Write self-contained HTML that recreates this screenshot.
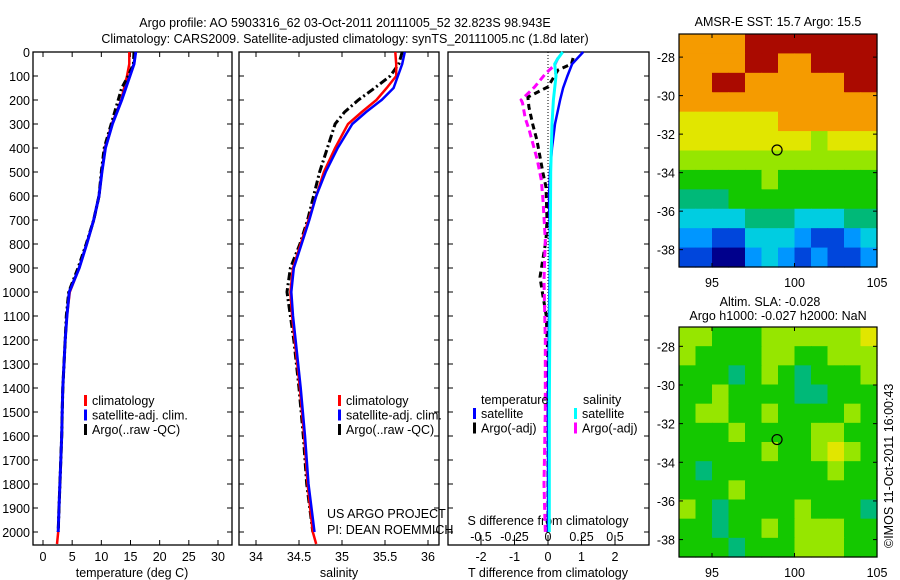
<!DOCTYPE html>
<html><head><meta charset="utf-8">
<style>
body{margin:0;background:#fff;}
svg{display:block;font-family:"Liberation Sans",sans-serif;font-size:12.5px;}
</style></head>
<body>
<svg id="c" width="900" height="580" viewBox="0 0 900 580" xmlns="http://www.w3.org/2000/svg">
<rect width="900" height="580" fill="#fff"/>
<text x="345" y="27" text-anchor="middle">Argo profile: AO 5903316_62 03-Oct-2011 20111005_52 32.823S 98.943E</text>
<text x="345" y="43" text-anchor="middle">Climatology: CARS2009. Satellite-adjusted climatology: synTS_20111005.nc (1.8d later)</text>
<g id="g"></g>
<text transform="translate(893,548) rotate(-90)">©IMOS 11-Oct-2011 16:00:43</text>
</svg>
<script>
// ---------- data ----------
const tDepth=[0,50,100,150,200,300,400,500,600,700,800,900,1000,1100,1200,1300,1400,1500,1600,1700,1800,1900,2000,2050];
const tClim=[14.8,14.8,14.4,13.9,13.4,11.8,10.6,10.1,9.6,8.7,7.5,6.2,4.6,4.1,3.8,3.6,3.4,3.3,3.2,3.05,2.9,2.75,2.6,2.4];
const tSat=[15.9,15.6,14.9,14.2,13.5,11.9,10.7,10.1,9.6,8.7,7.5,6.2,4.5,4.1,3.8,3.6,3.4,3.3,3.2,3.05,2.9,2.75,2.6,null];
const tArgo=[15.6,15.5,14.6,13.5,12.9,11.7,10.5,10.0,9.6,8.7,7.4,6.0,4.4,4.0,3.8,3.6,3.4,3.3,3.2,3.05,2.9,2.75,2.6,null];
const sDepth=[0,50,100,150,200,250,300,400,500,600,700,800,900,1000,1100,1200,1400,1600,1800,2000,2050];
const sClim=[35.62,35.63,35.63,35.52,35.40,35.23,35.07,34.92,34.79,34.70,34.61,34.52,34.43,34.40,34.42,34.45,34.51,34.56,34.60,34.66,34.70];
const sSat=[35.73,35.70,35.65,35.60,35.46,35.28,35.12,34.95,34.81,34.70,34.62,34.53,34.44,34.41,34.43,34.46,34.52,34.57,34.61,34.68,null];
const sArgo=[35.70,35.66,35.56,35.38,35.19,35.03,34.92,34.83,34.74,34.67,34.60,34.51,34.40,34.36,34.40,34.44,34.50,34.55,34.59,34.66,null];
const dtSatDepth=[0,50,100,150,200,300,400,500,600,800,1000,1200,1500,2000];
const dtSat=[1.05,0.72,0.58,0.45,0.36,0.21,0.12,0.06,0.03,0.06,0.04,0.02,0.0,0.0];
const dtArgoDepth=[25,50,75,145,188,229,304,367,504,563,700,783,938,992,1100,1300,1600,2000];
const dtArgo=[0.75,0.7,0.3,0.0,-0.6,-0.57,-0.45,-0.33,-0.15,-0.06,-0.03,-0.06,-0.24,-0.18,-0.05,0.0,0.0,0.0];
const dsSatDepth=[0,30,50,100,150,200,300,500,1000,1500,2000];
const dsSat=[0.11,0.07,0.05,0.06,0.05,0.04,0.03,0.02,0.015,0.01,0.01];
const dsArgoDepth=[25,54,88,146,200,212,275,325,450,533,617,783,950,1200,1500,1800,2000];
const dsArgo=[0.075,0.05,-0.015,-0.1,-0.2,-0.19,-0.17,-0.14,-0.08,-0.05,-0.037,-0.02,-0.03,-0.02,-0.02,-0.03,-0.02];
const depthTicks=[0,100,200,300,400,500,600,700,800,900,1000,1100,1200,1300,1400,1500,1600,1700,1800,1900,2000];
const tTicks=[0,5,10,15,20,25,30];
const sTicks=[34,34.5,35,35.5,36];
const dTTicks=[-2,-1,0,1,2];
const dSTicks=[-0.5,-0.25,0,0.25,0.5];
const sstRows=["888899999999","888899889999","889988888899","888888888888","777777888888","777777776777","666666666666","555556555555","444555555555","333344433344","221133321123","110023212112"];
const slaRows=["665556666667","655556655666","555456545556","556555544555","566556555565","555655556655","555556556765","545555555655","555655555555","654555565554","554556566655","555455566655"];
const lonTicks=[95,100,105];
const latTicks=[-28,-30,-32,-34,-36,-38];
const argoLon=98.943, argoLat=-32.823;

// ---------- helpers ----------
const NS="http://www.w3.org/2000/svg", G=document.getElementById('g');
function mk(tag,at,parent){const e=document.createElementNS(NS,tag);for(const k in at)e.setAttribute(k,at[k]);(parent||G).appendChild(e);return e;}
function txt(x,y,s,anchor){const e=mk('text',{x:x,y:y,'text-anchor':anchor||'start'});e.textContent=s;return e;}
const Y0=52, Y1=545;
const yD=d=>Y0+d*0.24;
const xT=v=>43+v*5.833;
const xS=v=>256+(v-34)*86;
const xDT=v=>548+v*33.5;
const xDS=v=>548+v*134;
function line(depths,vals,xf,color,w,dash,name){
  let p='';depths.forEach((d,i)=>{if(vals[i]==null)return;p+=(p?'L':'M')+xf(vals[i]).toFixed(1)+','+yD(d).toFixed(1);});
  const e=mk('path',{d:p,fill:'none',stroke:color,'stroke-width':w,'stroke-dasharray':dash||'none'});
  
  
}
function panel(x0,x1,name,yLabels){
  const r=mk('rect',{x:x0,y:Y0,width:x1-x0,height:Y1-Y0,fill:'none',stroke:'#000','stroke-width':1.3});
  
  
  depthTicks.forEach(d=>{const y=yD(d);
    mk('line',{x1:x0,x2:x0+5,y1:y,y2:y,stroke:'#000'});
    mk('line',{x1:x1-5,x2:x1,y1:y,y2:y,stroke:'#000'});
    if(yLabels){const t=txt(30,y+5,String(d),'end');
      
      }
  });
}
function xticks(vals,xf,labelY,fmt,top){
  vals.forEach(v=>{const x=xf(v);
    mk('line',{x1:x,x2:x,y1:Y1,y2:Y1-5,stroke:'#000'});
    if(top)mk('line',{x1:x,x2:x,y1:Y0,y2:Y0+5,stroke:'#000'});
    const t=txt(x,labelY,fmt?fmt(v):String(v),'middle');
    
    
  });
}
function legend(x,y,items){
  items.forEach((it,i)=>{const yy=y+i*14.5;
    mk('rect',{x:x,y:yy-10,width:3,height:11,fill:it[1]});
    const t=txt(x+8,yy,it[0]);
    
    
  });
}

// ---------- panel 1 temperature ----------
panel(33,232,'temperature-panel',true);
xticks(tTicks,xT,561,null,true);
txt(132,577,'temperature (deg C)','middle');
line(tDepth,tClim,xT,'#f00',2.5,null,'temp-climatology-line');
line(tDepth,tSat,xT,'#00f',3,null,'temp-satellite-line');
line(tDepth,tArgo,xT,'#000',3,'7,3,2,3','temp-argo-line');
line(tDepth,tSat,xT,'#00f',2.5,null,'temp-satellite-line-top');
legend(84,405,[['climatology','#f00'],['satellite-adj. clim.','#00f'],['Argo(..raw -QC)','#000']]);

// ---------- panel 2 salinity ----------
panel(239,439,'salinity-panel',false);
xticks(sTicks,xS,561,null,true);
txt(339,577,'salinity','middle');
line(sDepth,sArgo,xS,'#000',3,'8,3,2,3','sal-argo-line');
line(sDepth,sClim,xS,'#f00',2.5,null,'sal-climatology-line');
line(sDepth,sSat,xS,'#00f',2.5,null,'sal-satellite-line');
legend(338,405,[['climatology','#f00'],['satellite-adj. clim.','#00f'],['Argo(..raw -QC)','#000']]);
txt(327,518,'US ARGO PROJECT');
txt(327,534,'PI: DEAN ROEMMICH');

// ---------- panel 3 differences ----------
panel(448,649,'difference-panel',false);
mk('line',{x1:548,x2:548,y1:Y0,y2:Y1,stroke:'#000','stroke-dasharray':'1,2'});
xticks(dTTicks,xDT,561,null,false);
dSTicks.forEach(v=>{const x=xDS(v);mk('line',{x1:x,x2:x,y1:Y1-10,y2:Y1-5,stroke:'#000'});
  const t=txt(x,541,String(v),'middle');
  
  });
txt(548,525,'S difference from climatology','middle');
txt(548,577,'T difference from climatology','middle');
line(dtArgoDepth,dtArgo,xDT,'#000',3,'6,4','dt-argo-line');
line(dsArgoDepth,dsArgo,xDS,'#f0f',3,'7,4','ds-argo-line');
line(dtSatDepth,dtSat,xDT,'#00f',2.5,null,'dt-satellite-line');
line(dsSatDepth,dsSat,xDS,'#0ff',3,null,'ds-satellite-line');
txt(481,404,'temperature');
txt(583,404,'salinity');
legend(473,418,[['satellite','#00f'],['Argo(-adj)','#000']]);
legend(574,418,[['satellite','#0ff'],['Argo(-adj)','#f0f']]);

// ---------- maps ----------
const palette=['rgb(0,0,140)','rgb(0,70,220)','rgb(0,150,255)','rgb(0,205,225)','rgb(0,185,120)','rgb(20,200,0)','rgb(150,230,0)','rgb(225,230,0)','rgb(245,155,0)','rgb(170,10,0)'];
function map(x0,x1,yTop,yBot,latTop,rows,name){
  const lonL=93,lonR=105,latBot=-38.9;
  const xf=l=>x0+(l-lonL)/(lonR-lonL)*(x1-x0);
  const yf=la=>yTop+(latTop-la)/(latTop-latBot)*(yBot-yTop);
  const g=mk('g',{});
  const nr=rows.length,nc=rows[0].length,cw=(x1-x0)/nc,ch=(yBot-yTop)/nr;
  rows.forEach((r,i)=>{for(let j=0;j<nc;j++){
    const c=mk('rect',{x:x0+j*cw,y:yTop+i*ch,width:cw+0.6,height:ch+0.6,fill:palette[+r[j]]},g);
    
    }});
  mk('rect',{x:x0,y:yTop,width:x1-x0,height:yBot-yTop,fill:'none',stroke:'#000','stroke-width':1.2});
  lonTicks.forEach(l=>{const x=xf(l);mk('line',{x1:x,x2:x,y1:yBot,y2:yBot-4,stroke:'#000'});mk('line',{x1:x,x2:x,y1:yTop,y2:yTop+4,stroke:'#000'});
    const t=txt(x,yBot+20,String(l),'middle');});
  latTicks.forEach(la=>{const y=yf(la);if(y<yTop||y>yBot)return;mk('line',{x1:x0,x2:x0+4,y1:y,y2:y,stroke:'#000'});mk('line',{x1:x1-4,x2:x1,y1:y,y2:y,stroke:'#000'});
    const t=txt(x0-4,y+5,String(la),'end');});
  const c=mk('circle',{cx:xf(argoLon),cy:yf(argoLat),r:5,fill:'none',stroke:'#000','stroke-width':1.2});
  
}
map(679,877,34,267,-26.8,sstRows,'sst-map');
txt(778,26,'AMSR-E SST: 15.7 Argo: 15.5','middle');
map(679,877,327,557,-27.0,slaRows,'sla-map');
txt(770,306,'Altim. SLA: -0.028','middle');
txt(778,320,'Argo h1000: -0.027 h2000: NaN','middle');
</script>
</body></html>
